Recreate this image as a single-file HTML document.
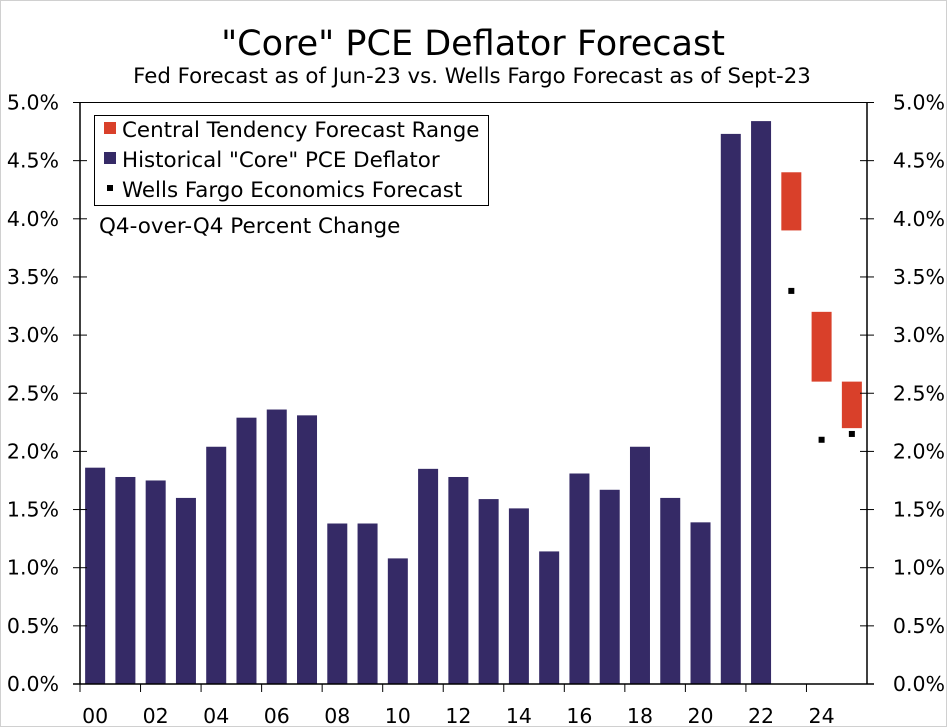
<!DOCTYPE html>
<html><head><meta charset="utf-8"><style>
body{margin:0;background:#fff}
svg{display:block;font-family:"DejaVu Sans","Liberation Sans",sans-serif}
</style></head><body>
<svg id="chart" width="947" height="727">
<rect x="0.5" y="0.5" width="946" height="726" fill="#fff" stroke="#d0d0d0"/>
<text x="473" y="55" text-anchor="middle" font-size="35" fill="#000">"Core" PCE Deflator Forecast</text>
<text x="472" y="83" text-anchor="middle" font-size="21.3" fill="#000">Fed Forecast as of Jun-23 vs. Wells Fargo Forecast as of Sept-23</text>
<g id="marks"></g>
<g id="axes"></g>
<g>
<rect x="94.5" y="115.5" width="394" height="90" fill="#fff" stroke="#000"/>
<rect x="104" y="122" width="12" height="12" fill="#d9402a"/>
<text x="122" y="137" font-size="21.4">Central Tendency Forecast Range</text>
<rect x="104" y="152" width="12" height="12" fill="#352a66"/>
<text x="122" y="167" font-size="21.4">Historical "Core" PCE Deflator</text>
<rect x="107" y="185" width="6" height="6" fill="#000"/>
<text x="122" y="197" font-size="21.4">Wells Fargo Economics Forecast</text>
</g>
<text x="99" y="233" font-size="21.5">Q4-over-Q4 Percent Change</text>
</svg>
<script>
const years = ["00","01","02","03","04","05","06","07","08","09","10","11","12","13","14","15","16","17","18","19","20","21","22","23","24","25"];
const historical = [1.86,1.78,1.75,1.60,2.04,2.29,2.36,2.31,1.38,1.38,1.08,1.85,1.78,1.59,1.51,1.14,1.81,1.67,2.04,1.60,1.39,4.73,4.84,null,null,null];
const rangeLow = [null,null,null,null,null,null,null,null,null,null,null,null,null,null,null,null,null,null,null,null,null,null,null,3.90,2.60,2.20];
const rangeHigh = [null,null,null,null,null,null,null,null,null,null,null,null,null,null,null,null,null,null,null,null,null,null,null,4.40,3.20,2.60];
const wfForecast = [null,null,null,null,null,null,null,null,null,null,null,null,null,null,null,null,null,null,null,null,null,null,null,3.38,2.10,2.15];
const yTicks = [0,0.5,1,1.5,2,2.5,3,3.5,4,4.5,5];
const yTickLabels = ["0.0%","0.5%","1.0%","1.5%","2.0%","2.5%","3.0%","3.5%","4.0%","4.5%","5.0%"];

const NS="http://www.w3.org/2000/svg";
const L=80,R=867,T=102.5,B=684,yMax=5;
const slot=(R-L)/years.length;
const xc=i=>L+slot*(i+0.5);
const y=v=>B-(v/yMax)*(B-T);
function mk(tag,attrs,parent){const e=document.createElementNS(NS,tag);for(const k in attrs)e.setAttribute(k,attrs[k]);parent.appendChild(e);return e;}
const marks=document.getElementById('marks'),axes=document.getElementById('axes');
const bw=20;
historical.forEach((v,i)=>{if(v==null)return;
 const r=mk('rect',{x:xc(i)-bw/2,y:y(v),width:bw,height:B-y(v),fill:'#352a66'},marks);
 
 });
rangeLow.forEach((v,i)=>{if(v==null)return;
 const r=mk('rect',{x:xc(i)-bw/2,y:y(rangeHigh[i]),width:bw,height:y(v)-y(rangeHigh[i]),fill:'#d9402a'},marks);
 
 });
wfForecast.forEach((v,i)=>{if(v==null)return;
 const r=mk('rect',{x:xc(i)-3,y:y(v)-3,width:6,height:6,fill:'#000'},marks);
 
 });
let a=mk('line',{x1:L,y1:T,x2:L,y2:B,stroke:'#000','stroke-width':1.5},axes);


a=mk('line',{x1:R,y1:T,x2:R,y2:B,stroke:'#000','stroke-width':1.5},axes);


a=mk('line',{x1:L,y1:T,x2:R,y2:T,stroke:'#000','stroke-width':1},axes);


a=mk('line',{x1:L-7,y1:B,x2:R+7,y2:B,stroke:'#000','stroke-width':1.5},axes);


yTicks.forEach((v,k)=>{
 mk('line',{x1:L-7,y1:y(v),x2:L+7,y2:y(v),stroke:'#000'},axes);
 mk('line',{x1:R-7,y1:y(v),x2:R+7,y2:y(v),stroke:'#000'},axes);
 const t1=mk('text',{x:59,y:y(v)+7,'text-anchor':'end','font-size':20.5},axes);t1.textContent=yTickLabels[k];
 
 
 const t2=mk('text',{x:945,y:y(v)+7,'text-anchor':'end','font-size':20.5},axes);t2.textContent=yTickLabels[k];
 
 
});
years.forEach((yr,i)=>{
 if(i%2!==0)return;
 const xb=L+slot*i;
 mk('line',{x1:xb,y1:B,x2:xb,y2:B+8,stroke:'#000'},axes);
 const t=mk('text',{x:xc(i),y:723,'text-anchor':'middle','font-size':20.5},axes);t.textContent=yr;
 
 
});
</script>
</body></html>
